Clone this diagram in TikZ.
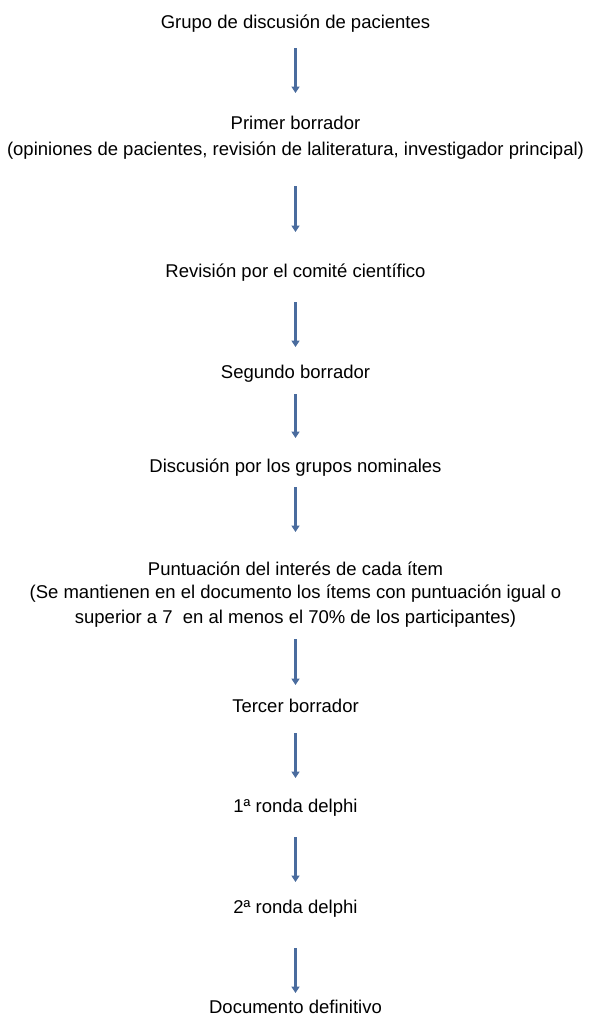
\documentclass[tikz,border=0pt]{standalone}
\usepackage{fontspec}
\setmainfont{Liberation Sans}
\usetikzlibrary{arrows.meta}
\definecolor{flowblue}{HTML}{4A6C9E}

\begin{document}
\begin{tikzpicture}[x=1pt, y=-1pt,
stage/.style={inner sep=0, anchor=base, align=center, font=\fontsize{18.5}{24}\selectfont},
flow/.style={draw=flowblue, line width=2.4pt, -{Triangle[width=8pt, length=6.5pt]}},
]
\useasboundingbox (0,0) rectangle (590,1015); %%%%%%% SIZE OF THE PAGE

%%%%%%%%%%%%%%%%%%%%%%%% STAGES %%%%%%%%%%%%%%%%%%%%%%%%%%%
%% (base of a two- or three-line stage = its last line)
\node[stage] (grupo) at (295.5,28) {Grupo de discusión de pacientes};
\node[stage] (primer) at (295.5,155) {Primer borrador\\[2pt]
  (opiniones de pacientes, revisión de laliteratura, investigador principal)};
\node[stage] (revision) at (295.5,277) {Revisión por el comité científico};
\node[stage] (segundo) at (295.5,378) {Segundo borrador};
\node[stage] (discusion) at (295.5,472) {Discusión por los grupos nominales};
\node[stage] (puntuacion) at (295.5,623) {Puntuación del interés de cada ítem\\[-1pt]
  (Se mantienen en el documento los ítems con puntuación igual o\\[1pt]
  superior a 7\ \ en al menos el 70\% de los participantes)};
\node[stage] (tercer) at (295.5,712) {Tercer borrador};
\node[stage] (ronda1) at (295.5,812) {1ª ronda delphi};
\node[stage] (ronda2) at (295.5,913) {2ª ronda delphi};
\node[stage] (documento) at (295.5,1013) {Documento definitivo};

%%%%%%%%%%%%%%%%%%%%%%%% ARROWS %%%%%%%%%%%%%%%%%%%%%%%%%%%
\draw[flow] ([yshift=-20pt]grupo.base) -- ([yshift=62pt]primer.base);
\draw[flow] ([yshift=-31pt]primer.base) -- ([yshift=45pt]revision.base);
\draw[flow] ([yshift=-25pt]revision.base) -- ([yshift=31pt]segundo.base);
\draw[flow] ([yshift=-16pt]segundo.base) -- ([yshift=34pt]discusion.base);
\draw[flow] ([yshift=-15pt]discusion.base) -- ([yshift=91pt]puntuacion.base);
\draw[flow] ([yshift=-16pt]puntuacion.base) -- ([yshift=27pt]tercer.base);
\draw[flow] ([yshift=-21pt]tercer.base) -- ([yshift=34pt]ronda1.base);
\draw[flow] ([yshift=-25pt]ronda1.base) -- ([yshift=31pt]ronda2.base);
\draw[flow] ([yshift=-35pt]ronda2.base) -- ([yshift=20pt]documento.base);
\end{tikzpicture}
\end{document}
